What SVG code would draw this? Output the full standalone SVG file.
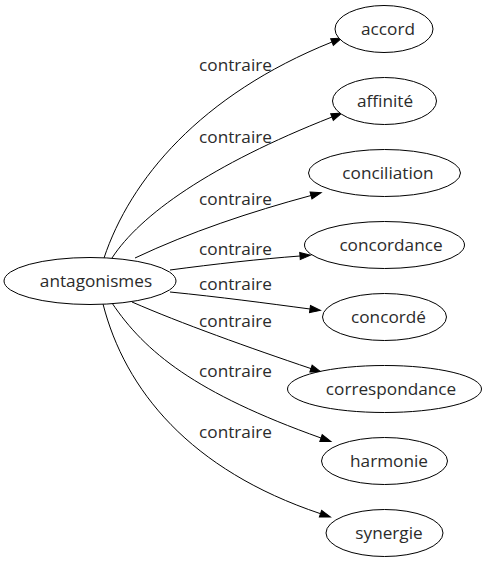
<svg xmlns="http://www.w3.org/2000/svg" width="486" height="563" viewBox="0 0 486 563">
<defs>
<style>
.n ellipse{fill:#fff;stroke:#000;stroke-width:1}
text{font-family:"Open Sans","Noto Sans",sans-serif;font-size:17.2px;fill:#2b2b2b;text-anchor:middle}
.e path{fill:none;stroke:#000;stroke-width:1;marker-end:url(#ah)}
</style>
<marker id="ah" markerUnits="userSpaceOnUse" markerWidth="12" markerHeight="10" refX="0" refY="0" viewBox="0 -5 12 10" orient="auto" overflow="visible">
<path d="M0,-3.6 L10.5,0 L0,3.6 z" fill="#000" stroke="#000" stroke-width="1"/>
</marker>
</defs>
<rect width="486" height="563" fill="#fff"/>
<g id="edges" class="e">
<path d="M104,258 C130,180 200,95 332,42"/>
<path d="M112,258 C140,215 210,165 332,117"/>
<path d="M135,258 C190,232 250,212 311,195.5"/>
<path d="M170,270 C215,264 260,259 300,256"/>
<path d="M170,292 C220,297 265,303 310,309"/>
<path d="M132,302 C180,323 250,348 311,368.6"/>
<path d="M112,303 C145,352 195,393 321,438"/>
<path d="M103,304 C125,390 190,470 320.5,513.7"/>
<text x="235.5" y="71">contraire</text>
<text x="235.5" y="143">contraire</text>
<text x="235.5" y="205">contraire</text>
<text x="235.5" y="255">contraire</text>
<text x="235.5" y="290">contraire</text>
<text x="235.5" y="327">contraire</text>
<text x="235.5" y="377">contraire</text>
<text x="235.5" y="438">contraire</text>
</g>
<g id="antagonismes" class="n"><ellipse cx="90" cy="281" rx="86" ry="23.5"/><text x="96" y="287">antagonismes</text></g>
<g id="accord" class="n"><ellipse cx="384" cy="29" rx="49" ry="23.5"/><text x="388" y="35">accord</text></g>
<g id="affinite" class="n"><ellipse cx="384.5" cy="101" rx="52" ry="23.5"/><text x="385" y="107">affinité</text></g>
<g id="conciliation" class="n"><ellipse cx="384.5" cy="173" rx="76" ry="23.5"/><text x="388" y="179">conciliation</text></g>
<g id="concordance" class="n"><ellipse cx="384.5" cy="245" rx="80" ry="23.5"/><text x="391" y="251">concordance</text></g>
<g id="concorde" class="n"><ellipse cx="384.5" cy="317" rx="62" ry="23.5"/><text x="388.5" y="323">concordé</text></g>
<g id="correspondance" class="n"><ellipse cx="384.5" cy="389" rx="97" ry="23.5"/><text x="391" y="395">correspondance</text></g>
<g id="harmonie" class="n"><ellipse cx="384.5" cy="461" rx="63" ry="23.5"/><text x="389" y="467">harmonie</text></g>
<g id="synergie" class="n"><ellipse cx="384.5" cy="533" rx="58.5" ry="23.5"/><text x="389" y="539">synergie</text></g>
</svg>
